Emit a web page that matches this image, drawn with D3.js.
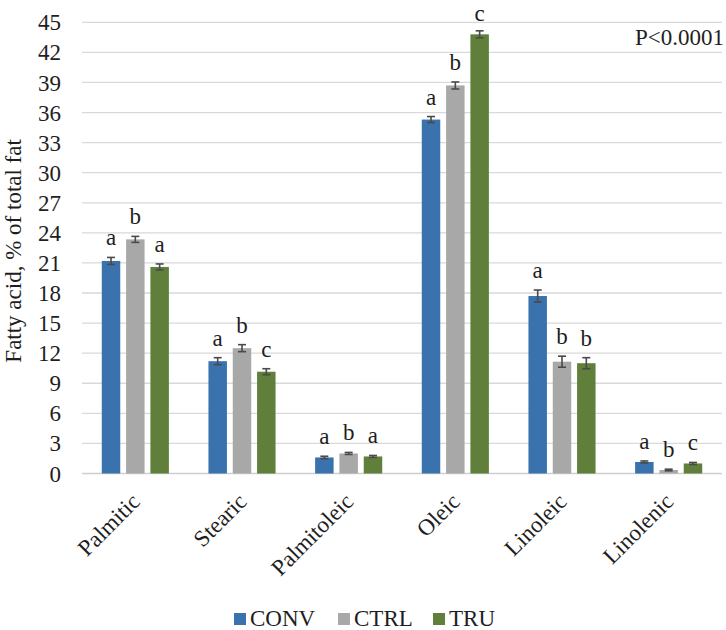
<!DOCTYPE html>
<html>
<head>
<meta charset="utf-8">
<script src="https://cdn.jsdelivr.net/npm/d3@7"></script>
<style>
  body { margin: 0; background: #fff; }
  svg text { font-family: "Liberation Serif", "DejaVu Serif", "Times New Roman", serif; fill: #1e1e1e; font-size: 23px; }
</style>
</head>
<body>
<div id="chart"></div>
<script>
const categories = ["Palmitic", "Stearic", "Palmitoleic", "Oleic", "Linoleic", "Linolenic"];
const series = ["CONV", "CTRL", "TRU"];
const conv = [21.2, 11.2, 1.6, 35.3, 17.7, 1.15];
const ctrl = [23.35, 12.5, 2.0, 38.7, 11.15, 0.35];
const tru = [20.6, 10.15, 1.7, 43.8, 11.0, 1.0];
const convErr = [0.35, 0.35, 0.12, 0.3, 0.6, 0.1];
const ctrlErr = [0.3, 0.35, 0.1, 0.35, 0.55, 0.08];
const truErr = [0.3, 0.3, 0.1, 0.35, 0.55, 0.1];
const convSig = ["a", "a", "a", "a", "a", "a"];
const ctrlSig = ["b", "b", "b", "b", "b", "b"];
const truSig = ["a", "c", "a", "c", "b", "c"];
const yTicks = [0, 3, 6, 9, 12, 15, 18, 21, 24, 27, 30, 33, 36, 39, 42, 45];
const colors = ["#3a72ae", "#a9a8a9", "#607f3b"];

const values = [conv, ctrl, tru], errs = [convErr, ctrlErr, truErr], sigs = [convSig, ctrlSig, truSig];
const rows = [];
categories.forEach((c, i) => series.forEach((s, j) => rows.push({cat: c, s, v: values[j][i], e: errs[j][i], sig: sigs[j][i], k: j})));

const W = 726, H = 630;
const svg = d3.select("#chart").append("svg").attr("width", W).attr("height", H)
    .attr("font-family", "'Liberation Serif', 'DejaVu Serif', serif");

const x = d3.scaleBand().domain(categories).range([82, 722]);
const x1 = d3.scaleBand().domain(series).range([-33.55, 33.55]).paddingInner(0.24);
const y = d3.scaleLinear().domain([0, 45]).range([473.5, 22.3]);
const cxOf = d => x(d.cat) + x.bandwidth() / 2 + x1(d.s) + x1.bandwidth() / 2;

// gridlines
svg.append("g").selectAll("line").data(yTicks).join("line")
    .attr("x1", 82).attr("x2", 722)
    .attr("y1", d => y(d)).attr("y2", d => y(d))
    .attr("stroke", d => d === 0 ? "#cfcfcf" : "#d9d9d9").attr("stroke-width", 1.3);

// y tick labels
svg.append("g").selectAll("text").data(yTicks).join("text")
    .attr("x", 61).attr("y", d => y(d)).attr("dy", "0.35em")
    .attr("text-anchor", "end")
    .text(d => d);

svg.append("text")
    .attr("transform", `translate(21,${(y(0) + y(45)) / 2 + 3}) rotate(-90)`)
    .attr("text-anchor", "middle")
    .text("Fatty acid, % of total fat");

// bars
svg.append("g").selectAll("rect").data(rows).join("rect")
    .attr("x", d => x(d.cat) + x.bandwidth() / 2 + x1(d.s))
    .attr("y", d => y(d.v))
    .attr("width", x1.bandwidth())
    .attr("height", d => y(0) - y(d.v))
    .attr("fill", d => colors[d.k]);

// error bars
const eb = svg.append("g").attr("stroke", "#4a4a4a").attr("stroke-width", 1.6);
rows.forEach(d => {
    const cx = cxOf(d);
    eb.append("line").attr("x1", cx).attr("x2", cx).attr("y1", y(d.v - d.e)).attr("y2", y(d.v + d.e));
    eb.append("line").attr("x1", cx - 4).attr("x2", cx + 4).attr("y1", y(d.v - d.e)).attr("y2", y(d.v - d.e));
    eb.append("line").attr("x1", cx - 4).attr("x2", cx + 4).attr("y1", y(d.v + d.e)).attr("y2", y(d.v + d.e));
});

// significance letters (kept inside the top of the picture)
svg.append("g").selectAll("text").data(rows).join("text")
    .attr("x", cxOf)
    .attr("y", d => Math.max(21, y(d.v + d.e) - 12))
    .attr("text-anchor", "middle")
    .text(d => d.sig);

// x labels
svg.append("g").selectAll("text").data(categories).join("text")
    .attr("transform", d => `translate(${x(d) + x.bandwidth() / 2 + 6},503) rotate(-45)`)
    .attr("text-anchor", "end")
    .text(d => d);

svg.append("text").attr("x", 724).attr("y", 45).attr("text-anchor", "end")
    .text("P<0.0001");

// legend
const legX = [234, 338, 433];
const leg = svg.append("g").selectAll("g").data(series).join("g")
    .attr("transform", (d, i) => `translate(${legX[i]},613)`);
leg.append("rect").attr("width", 12).attr("height", 12).attr("fill", (d, i) => colors[i]);
leg.append("text").attr("x", 16).attr("y", 13).text(d => d);
</script>
</body>
</html>
